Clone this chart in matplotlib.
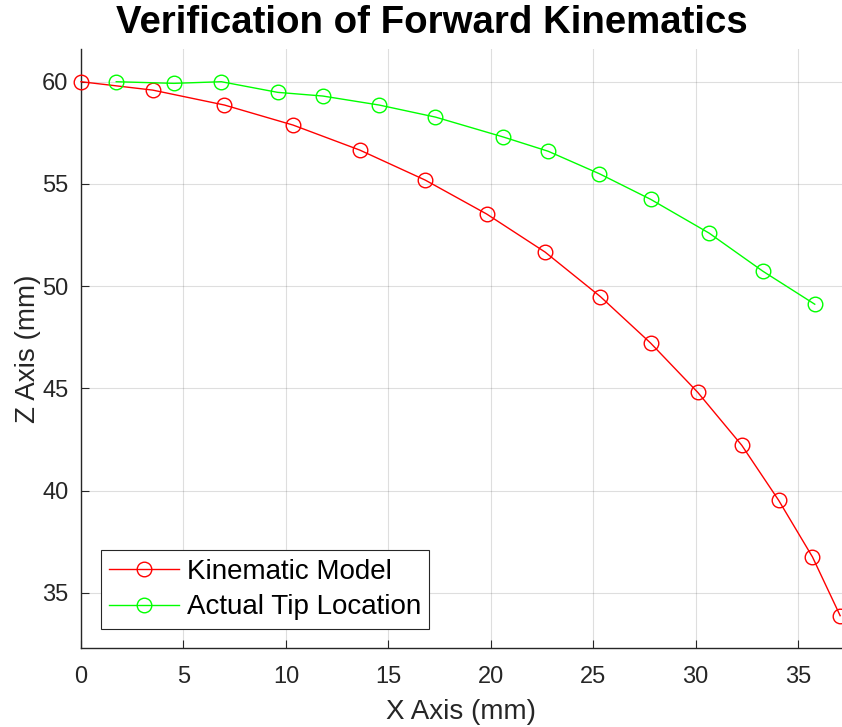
import matplotlib
matplotlib.use("Agg")
import matplotlib.pyplot as plt

plt.rcParams['font.family'] = ['Liberation Sans', 'DejaVu Sans']

model_x = [0.0, 3.5, 7.0, 10.35, 13.6, 16.8, 19.8, 22.65, 25.35, 27.8, 30.1, 32.25, 34.05, 35.7, 37.05]
model_z = [60.0, 59.59, 58.86, 57.88, 56.66, 55.19, 53.53, 51.67, 49.49, 47.22, 44.81, 42.22, 39.53, 36.76, 33.89]

tip_x = [1.72, 4.53, 6.85, 9.6, 11.8, 14.55, 17.3, 20.6, 22.8, 25.3, 27.8, 30.65, 33.27, 35.81]
tip_z = [60.0, 59.92, 60.0, 59.48, 59.3, 58.86, 58.27, 57.3, 56.6, 55.5, 54.25, 52.6, 50.74, 49.12]

xticks = [0, 5, 10, 15, 20, 25, 30, 35]
yticks = [35, 40, 45, 50, 55, 60]

W, H = 842, 727
fig = plt.figure(figsize=(W/100, H/100), dpi=100)
ax = fig.add_axes([81/W, 1-648/H, (W-81)/W, (648-49)/H])

ax.plot(model_x, model_z, color='#ff0000', lw=1.0, marker='o', ms=10.5,
        mfc='none', mec='#ff0000', mew=1.0, label='Kinematic Model', clip_on=False, zorder=3)
ax.plot(tip_x, tip_z, color='#00ff00', lw=1.0, marker='o', ms=10.5,
        mfc='none', mec='#00ff00', mew=1.0, label='Actual Tip Location', clip_on=False, zorder=3)

ax.set_xlim(0, 37.14)
ax.set_ylim(32.31, 61.6)
ax.set_xticks(xticks)
ax.set_yticks(yticks)
ax.grid(True, color='#262626', alpha=0.15, lw=0.8)
ax.set_axisbelow(True)

for s in ['top', 'right']:
    ax.spines[s].set_visible(False)
for s in ['left', 'bottom']:
    ax.spines[s].set_color('#262626')
    ax.spines[s].set_linewidth(1.0)

ax.tick_params(direction='in', length=6, width=0.8, color='#262626',
               labelcolor='#262626', labelsize=17)
ax.tick_params(axis='x', pad=13)
ax.tick_params(axis='y', pad=9)

ax.set_xlabel('X Axis (mm)', fontsize=20, color='#262626', labelpad=8)
ax.set_ylabel('Z Axis (mm)', fontsize=20, color='#262626', labelpad=1)
fig.text(432/W, 1-23/H, 'Verification of Forward Kinematics', fontsize=27.6,
         fontweight='bold', ha='center', va='center')

leg = ax.legend(loc='lower left', bbox_to_anchor=(0.026, 0.032), fontsize=20,
                frameon=True, fancybox=False, edgecolor='#262626', framealpha=1,
                handlelength=2.5, borderpad=0.3, labelspacing=0.35, handletextpad=0.3,
                borderaxespad=0.0)
leg.get_frame().set_linewidth(0.8)

fig.savefig('out.png', dpi=100)
